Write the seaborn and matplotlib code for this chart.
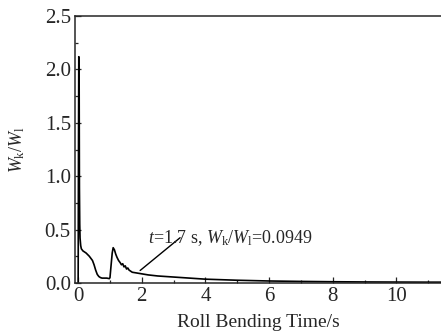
import numpy as np
import pandas as pd
import seaborn as sns
import matplotlib.pyplot as plt

# Roll bending time (s) and energy ratio Wk/Wl
time = [0.0, 0.01, 0.02, 0.03, 0.04, 0.05, 0.06, 0.08, 0.10, 0.15, 0.25, 0.35,
        0.45, 0.50, 0.55, 0.60, 0.65, 0.70, 0.75, 0.80, 0.90, 0.98, 1.00, 1.03,
        1.07, 1.10, 1.14, 1.18, 1.22, 1.27, 1.32, 1.36, 1.40, 1.44, 1.48, 1.52,
        1.56, 1.60, 1.65, 1.70, 1.80, 1.90, 2.00, 2.20, 2.50, 3.00, 3.50, 4.00,
        5.00, 6.00, 7.00, 8.00, 9.00, 10.00, 11.00, 11.50]
ratio = [0.0, 1.20, 2.12, 2.05, 0.90, 0.55, 0.42, 0.35, 0.32, 0.30, 0.28, 0.25,
         0.21, 0.17, 0.12, 0.08, 0.06, 0.05, 0.045, 0.045, 0.045, 0.04, 0.05, 0.15,
         0.28, 0.33, 0.31, 0.27, 0.24, 0.21, 0.19, 0.17, 0.18, 0.15, 0.16, 0.13,
         0.14, 0.12, 0.11, 0.10, 0.095, 0.09, 0.085, 0.075, 0.065, 0.055, 0.045, 0.035,
         0.025, 0.018, 0.014, 0.011, 0.009, 0.008, 0.007, 0.007]

df = pd.DataFrame({'time': time, 'ratio': ratio})

sns.set_style('ticks')
plt.rcParams['font.family'] = ['Liberation Serif', 'DejaVu Serif']
plt.rcParams['mathtext.fontset'] = 'custom'
plt.rcParams['mathtext.rm'] = 'Liberation Serif'
plt.rcParams['mathtext.it'] = 'Liberation Serif:italic'
plt.rcParams['xtick.direction'] = 'in'
plt.rcParams['ytick.direction'] = 'in'

fig = plt.figure(figsize=(4.41, 3.36), dpi=100)
ax = fig.add_axes([0.170, 0.158, 0.830, 0.794])

sns.lineplot(data=df, x='time', y='ratio', color='black', linewidth=1.2, ax=ax)

ax.set_xlim(-0.1, 11.4)
ax.set_ylim(0, 2.5)
ax.set_xticks([0, 2, 4, 6, 8, 10])
ax.set_xticks(np.arange(1, 12, 2), minor=True)
ax.set_yticks([0, 0.5, 1.0, 1.5, 2.0, 2.5])
ax.set_yticks(np.arange(0.25, 2.5, 0.5), minor=True)
ax.set_yticklabels(['0.0', '0.5', '1.0', '1.5', '2.0', '2.5'])
ax.tick_params(which='major', length=4, width=0.9, labelsize=15, pad=3)
ax.tick_params(which='minor', length=2, width=0.9)
ax.spines['right'].set_visible(False)
for s in ['left', 'bottom', 'top']:
    ax.spines[s].set_linewidth(1.1)

ax.set_xlabel('Roll Bending Time/s', fontsize=14, labelpad=6)
ax.set_ylabel(r'$W_{\rm k}/W_{\rm l}$', fontsize=13, labelpad=13)

ax.annotate('', xy=(1.88, 0.10), xytext=(3.27, 0.44),
            arrowprops=dict(arrowstyle='-', color='black', lw=1.0))
ax.text(2.2, 0.37, r'$t$=1.7 s, $W_{\rm k}$/$W_{\rm l}$=0.0949', fontsize=13)

fig.savefig('out.png', dpi=100)
